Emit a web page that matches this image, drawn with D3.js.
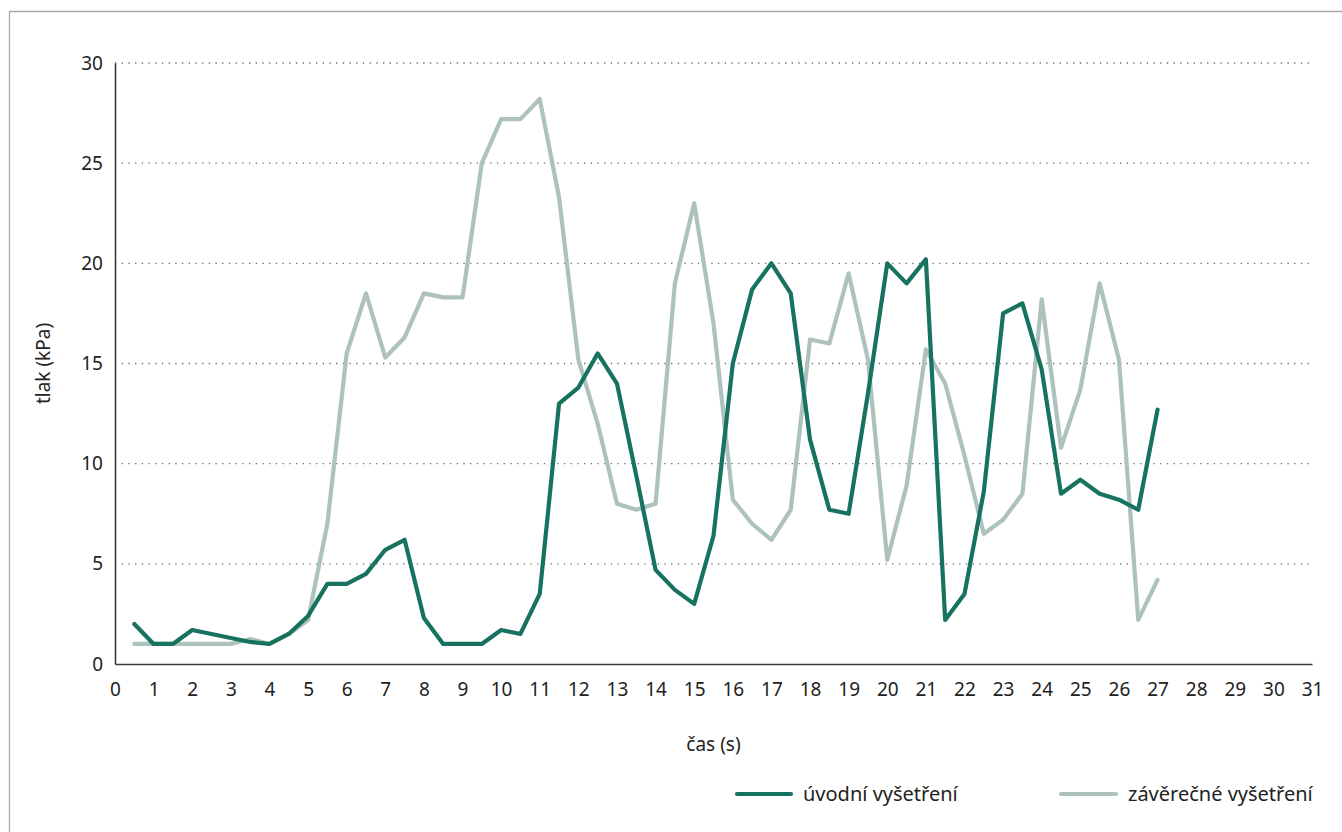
<!DOCTYPE html>
<html>
<head>
<meta charset="utf-8">
<script src="https://cdn.jsdelivr.net/npm/d3@7"></script>
<style>
  body { margin: 0; background: #fff; }
  #chart { width: 1342px; height: 832px; }
  text { font-family: "Noto Sans", "Open Sans", sans-serif; fill: #222; }
</style>
</head>
<body>
<div id="chart"></div>
<script>
const times = [0.5, 1, 1.5, 2, 2.5, 3, 3.5, 4, 4.5, 5, 5.5, 6, 6.5, 7, 7.5, 8, 8.5, 9, 9.5, 10,
  10.5, 11, 11.5, 12, 12.5, 13, 13.5, 14, 14.5, 15, 15.5, 16, 16.5, 17, 17.5, 18, 18.5, 19, 19.5, 20,
  20.5, 21, 21.5, 22, 22.5, 23, 23.5, 24, 24.5, 25, 25.5, 26, 26.5, 27];

const uvodni = [2.0, 1.0, 1.0, 1.7, 1.5, 1.3, 1.1, 1.0, 1.5, 2.4, 4.0, 4.0, 4.5, 5.7, 6.2, 2.3, 1.0, 1.0, 1.0, 1.7,
  1.5, 3.5, 13.0, 13.8, 15.5, 14.0, 9.4, 4.7, 3.7, 3.0, 6.4, 15.0, 18.7, 20.0, 18.5, 11.2, 7.7, 7.5, 13.5, 20.0,
  19.0, 20.2, 2.2, 3.5, 8.6, 17.5, 18.0, 14.7, 8.5, 9.2, 8.5, 8.2, 7.7, 12.7];

const zaverecne = [1.0, 1.0, 1.0, 1.0, 1.0, 1.0, 1.25, 1.0, 1.5, 2.2, 7.0, 15.5, 18.5, 15.3, 16.3, 18.5, 18.3, 18.3, 25.0, 27.2,
  27.2, 28.2, 23.3, 15.2, 12.0, 8.0, 7.7, 8.0, 19.0, 23.0, 17.0, 8.2, 7.0, 6.2, 7.7, 16.2, 16.0, 19.5, 15.2, 5.2,
  8.9, 15.7, 14.0, 10.4, 6.5, 7.2, 8.5, 18.2, 10.8, 13.7, 19.0, 15.2, 2.2, 4.2];

const xTicks = [0, 1, 2, 3, 4, 5, 6, 7, 8, 9, 10, 11, 12, 13, 14, 15, 16, 17, 18, 19, 20,
  21, 22, 23, 24, 25, 26, 27, 28, 29, 30, 31];
const yTicks = [0, 5, 10, 15, 20, 25, 30];

const seriesNames = ['úvodní vyšetření', 'závěrečné vyšetření'];
const seriesColors = ['#17735f', '#adc2bb'];

class PressureChart {
  constructor(_config) {
    this.config = {
      parentElement: _config.parentElement,
      containerWidth: _config.containerWidth || 1342,
      containerHeight: _config.containerHeight || 832,
      margin: _config.margin || { top: 63, right: 30, bottom: 168, left: 115 }
    };
    this.initVis();
  }

  initVis() {
    const vis = this;
    const m = vis.config.margin;

    vis.width = vis.config.containerWidth - m.left - m.right;
    vis.height = vis.config.containerHeight - m.top - m.bottom;

    vis.svg = d3.select(vis.config.parentElement)
      .append('svg')
      .attr('width', vis.config.containerWidth)
      .attr('height', vis.config.containerHeight);

    // outer frame (only top and left edges are visible)
    vis.svg.append('path')
      .attr('d', `M9.5,${vis.config.containerHeight} V11.5 H${vis.config.containerWidth}`)
      .attr('fill', 'none')
      .attr('stroke', '#a8a8a8')
      .attr('stroke-width', 1.3);

    vis.chart = vis.svg.append('g')
      .attr('transform', `translate(${m.left},${m.top})`);

    vis.xScale = d3.scaleLinear().domain([0, 31]).range([0, vis.width]);
    vis.yScale = d3.scaleLinear().domain([0, 30]).range([vis.height, 0]);

    vis.renderVis();
  }

  renderVis() {
    const vis = this;

    // dotted gridlines
    vis.chart.append('g')
      .selectAll('line')
      .data(yTicks.filter(d => d > 0))
      .join('line')
      .attr('x1', 0)
      .attr('x2', vis.width)
      .attr('y1', d => vis.yScale(d))
      .attr('y2', d => vis.yScale(d))
      .attr('stroke', '#6b6b6b')
      .attr('stroke-width', 1.3)
      .attr('stroke-dasharray', '1.3,5.4');

    const xAxis = d3.axisBottom(vis.xScale).tickValues(xTicks).tickSize(0).tickPadding(19);
    const yAxis = d3.axisLeft(vis.yScale).tickValues(yTicks).tickSize(0).tickPadding(12);

    const xg = vis.chart.append('g')
      .attr('transform', `translate(0,${vis.height})`)
      .call(xAxis);
    const yg = vis.chart.append('g').call(yAxis);

    [xg, yg].forEach(g => {
      g.select('.domain').attr('stroke', '#3a3a3a').attr('stroke-width', 1.6);
      g.selectAll('text').attr('font-size', 19).attr('fill', '#222')
        .attr('font-family', '"Noto Sans", sans-serif');
    });

    // axis titles
    vis.svg.append('text')
      .attr('transform', `translate(45,${vis.config.margin.top + vis.height / 2}) rotate(-90)`)
      .attr('text-anchor', 'middle')
      .attr('dominant-baseline', 'middle')
      .attr('font-size', 19)
      .text('tlak (kPa)');

    vis.svg.append('text')
      .attr('x', vis.config.margin.left + vis.xScale(15.5))
      .attr('y', 751)
      .attr('text-anchor', 'middle')
      .attr('font-size', 19)
      .text('čas (s)');

    const line = d3.line()
      .x((d, i) => vis.xScale(times[i]))
      .y(d => vis.yScale(d));

    // light series first, dark drawn on top
    [zaverecne, uvodni].forEach((vals, k) => {
      vis.chart.append('path')
        .datum(vals)
        .attr('fill', 'none')
        .attr('stroke', seriesColors[1 - k])
        .attr('stroke-width', 4.2)
        .attr('stroke-linejoin', 'round')
        .attr('stroke-linecap', 'round')
        .attr('d', line);
    });

    vis.drawLegend();
  }

  drawLegend() {
    const vis = this;
    const legendX = [737, 1061];

    const items = vis.svg.append('g')
      .attr('class', 'legend')
      .selectAll('g')
      .data(seriesNames)
      .join('g')
      .attr('transform', (d, i) => `translate(${legendX[i]},794)`);

    items.append('line')
      .attr('x1', 0)
      .attr('x2', (d, i) => i === 0 ? 54 : 55)
      .attr('stroke', (d, i) => seriesColors[i])
      .attr('stroke-width', 4.2)
      .attr('stroke-linecap', 'round');

    items.append('text')
      .attr('x', (d, i) => i === 0 ? 66 : 67)
      .attr('y', 7)
      .attr('font-size', 20)
      .text(d => d);
  }
}

new PressureChart({ parentElement: '#chart' });
</script>
</body>
</html>
